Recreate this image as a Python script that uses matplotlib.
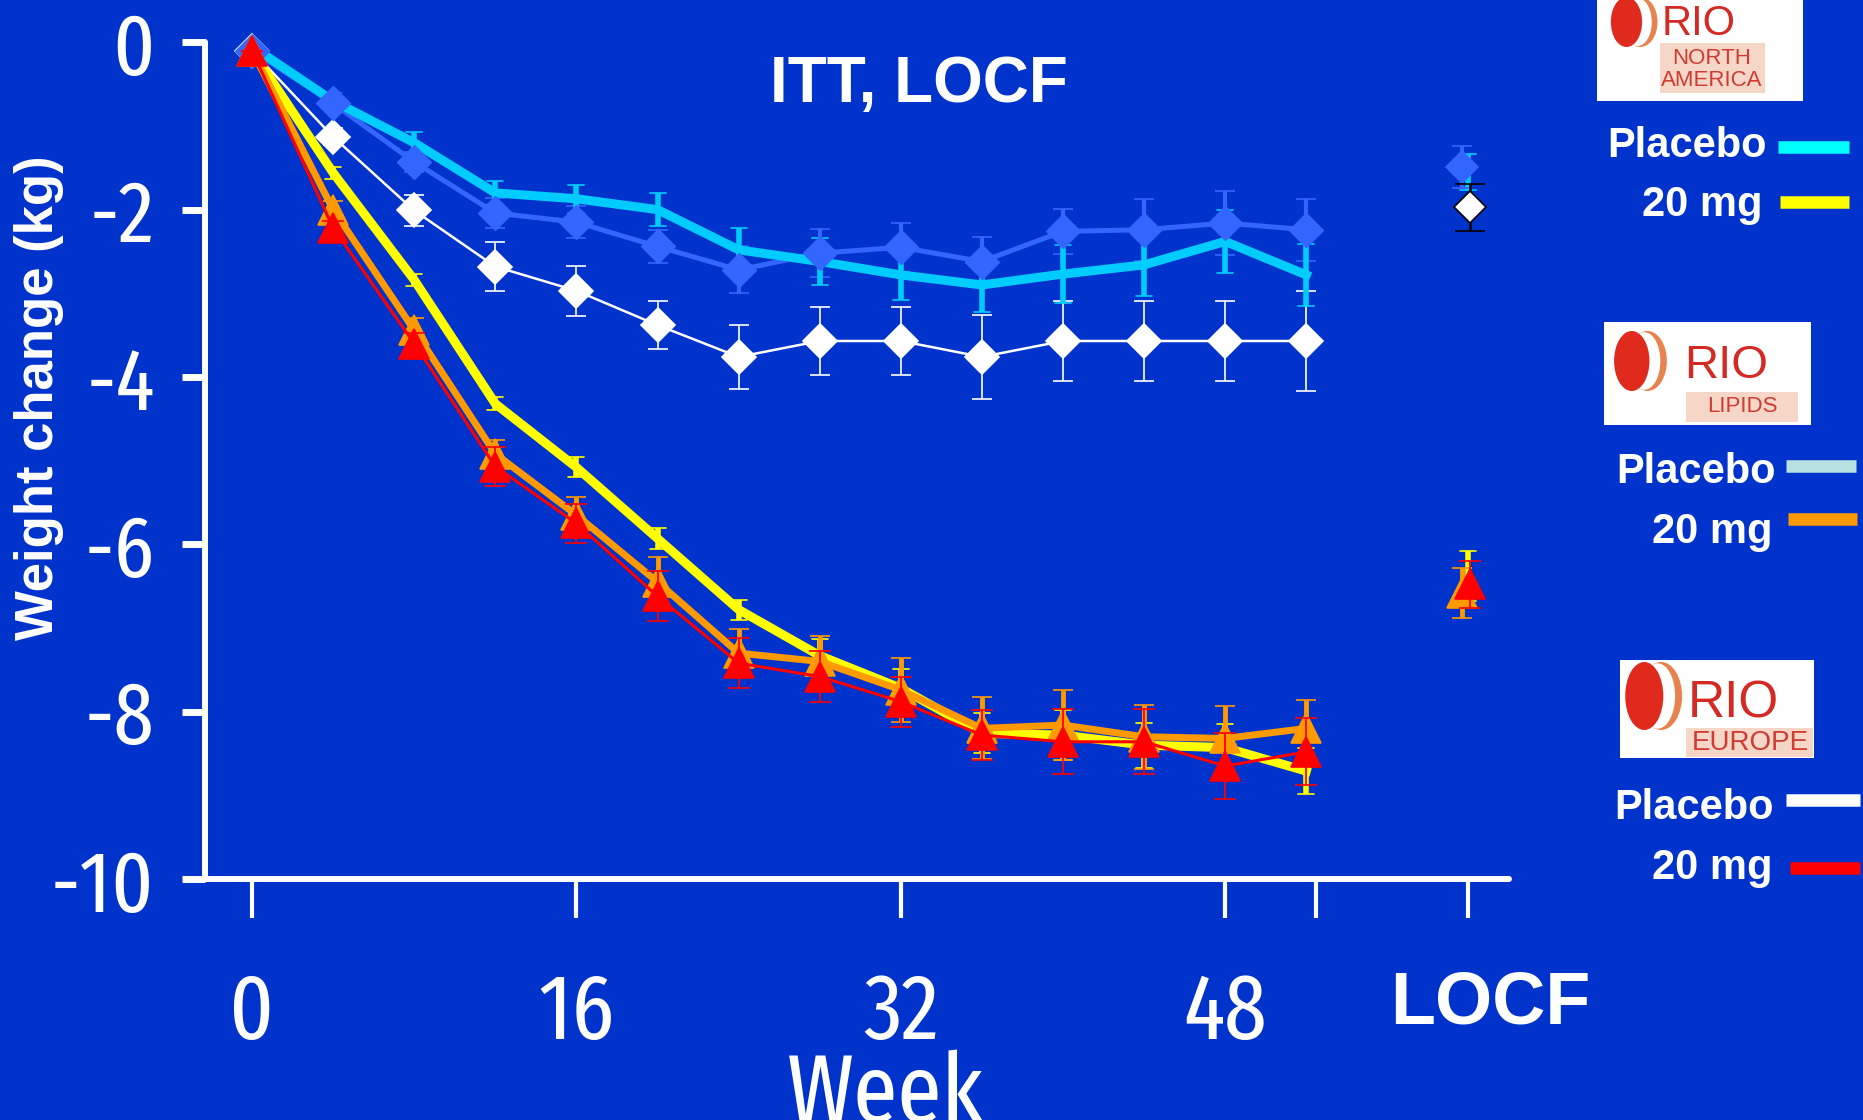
import matplotlib
matplotlib.use('Agg')
from matplotlib import pyplot as plt
from matplotlib import font_manager as fm
from matplotlib.markers import MarkerStyle
from matplotlib.patches import Rectangle, Ellipse

BG = '#0033CC'
BOLD = ['Liberation Sans', 'DejaVu Sans']

# weeks of follow-up
weeks = [0, 4, 8, 12, 16, 20, 24, 28, 32, 36, 40, 44, 48, 52]

# RIO North America
na_placebo = [-0.05, -0.70, -1.20, -1.80, -1.87, -2.00, -2.48, -2.62, -2.78, -2.90, -2.77, -2.66, -2.38, -2.78]
na_placebo_se = [0, 0.10, 0.13, 0.14, 0.17, 0.20, 0.26, 0.28, 0.30, 0.32, 0.35, 0.37, 0.38, 0.37]
na_20mg = [-0.10, -1.56, -2.84, -4.32, -5.08, -5.93, -6.78, -7.33, -7.72, -8.26, -8.28, -8.40, -8.43, -8.71]
na_20mg_se = [0, 0.07, 0.07, 0.08, 0.12, 0.13, 0.12, 0.20, 0.23, 0.24, 0.30, 0.27, 0.28, 0.27]

# RIO Lipids
lip_placebo = [-0.10, -0.73, -1.43, -2.04, -2.15, -2.44, -2.72, -2.52, -2.45, -2.62, -2.26, -2.24, -2.16, -2.24]
lip_placebo_se = [0, 0.08, 0.12, 0.18, 0.19, 0.20, 0.28, 0.29, 0.29, 0.29, 0.27, 0.37, 0.38, 0.37]
lip_20mg = [-0.10, -2.00, -3.44, -4.92, -5.65, -6.45, -7.30, -7.40, -7.74, -8.20, -8.16, -8.30, -8.32, -8.20]
lip_20mg_se = [0, 0.10, 0.14, 0.17, 0.22, 0.30, 0.29, 0.30, 0.38, 0.37, 0.42, 0.38, 0.39, 0.34]

# RIO Europe
eu_placebo = [-0.10, -1.13, -2.01, -2.68, -2.97, -3.38, -3.76, -3.57, -3.57, -3.76, -3.57, -3.57, -3.57, -3.57]
eu_placebo_se = [0, 0.10, 0.19, 0.29, 0.30, 0.29, 0.38, 0.41, 0.41, 0.50, 0.48, 0.48, 0.48, 0.60]
eu_20mg = [-0.10, -2.22, -3.60, -5.07, -5.75, -6.62, -7.42, -7.58, -7.88, -8.28, -8.36, -8.36, -8.65, -8.48]
eu_20mg_se = [0, 0.08, 0.12, 0.23, 0.23, 0.30, 0.30, 0.30, 0.30, 0.30, 0.39, 0.39, 0.39, 0.40]

# LOCF end points (mean, se)
locf_na_placebo = (-1.55, 0.22)
locf_lip_placebo = (-1.49, 0.25)
locf_eu_placebo = (-1.97, 0.28)
locf_na_20mg = (-6.38, 0.30)
locf_lip_20mg = (-6.58, 0.30)
locf_eu_20mg = (-6.48, 0.28)

LOCF_X = 60
y_ticks = [0, -2, -4, -6, -8, -10]
y_labels = ['0', '-2', '-4', '-6', '-8', '-10']
x_ticks = [0, 16, 32, 48, 52.5, 60]
x_labels = ['0', '16', '32', '48', '', '']


# the axis numbers in the slide use a narrow face; pick the narrowest sans installed
def narrow_rank(f):
    nm = f.name.lower().replace(' ', '').replace('-', '')
    if 'mono' in nm or 'serif' in nm or 'cjk' in nm or f.style != 'normal':
        return None
    if f.weight not in (400, 'normal', 'regular', 'book'):
        return None
    if 'extracondensed' in nm:
        return 0
    if 'narrow' in nm:
        return 1
    if 'semicondensed' in nm:
        return 3
    if 'ultracondensed' in nm:
        return 4
    if 'condensed' in nm or f.stretch == 'condensed':
        return 2
    return None


cands = [(narrow_rank(f), f.fname) for f in fm.fontManager.ttflist]
cands = sorted([c for c in cands if c[0] is not None])
if cands:
    NUM = dict(fname=cands[0][1])
    ysz, xsz, wsz = 63, 67, 70
else:
    NUM = dict(family=['Liberation Sans', 'DejaVu Sans'])
    ysz, xsz, wsz = 49, 53, 58

W, H = 1863.0, 1120.0
fig = plt.figure(figsize=(W / 100, H / 100), dpi=100, facecolor=BG)
ax = fig.add_axes([205.4 / W, 1 - 879 / H, (1509 - 205.4) / W, (879 - 42.3) / H])
ax.set_facecolor(BG)
ax.set_xlim(-2.3, 62)
ax.set_ylim(-10, 0)


def noclip(eb):
    for art in eb.get_children():
        art.set_clip_on(False)


def series(x, y, se, color, lw, elw, capthick, capsize, marker='None', ms=0,
           z=3, mec=None, ecolor=None, round_caps=False):
    eb = ax.errorbar(x, y, yerr=se, color=color, lw=lw, elinewidth=elw,
                     capsize=capsize, capthick=capthick, marker=marker, ms=ms,
                     mfc=color, mec=mec or color, mew=1.2, ecolor=ecolor or color,
                     zorder=z)
    noclip(eb)
    if round_caps:
        for c in eb[1]:
            c.set_marker(MarkerStyle('_', capstyle='round'))
    return eb


# placebo groups
series(weeks, eu_placebo, eu_placebo_se, 'white', 1.8, 1.2, 1.3, 7, 'D', 17, z=3)
series(weeks, lip_placebo, lip_placebo_se, '#3366FF', 3.6, 3, 4, 7, z=4)
series(weeks, na_placebo, na_placebo_se, '#00CCFF', 6.5, 4, 6, 6, z=5, round_caps=True)
ax.plot(weeks, lip_placebo, ls='None', marker='D', ms=17, color='#3366FF', zorder=6, clip_on=False)

# 20 mg groups
series(weeks, na_20mg, na_20mg_se, '#FFFF00', 6.5, 4, 6, 6, z=7, round_caps=True)
series(weeks, lip_20mg, lip_20mg_se, '#FF9900', 5, 3.5, 4, 7, '^', 21, z=8)
series(weeks, eu_20mg, eu_20mg_se, '#FF0000', 2.2, 1.3, 1.5, 8, '^', 21, z=9)

# LOCF points
series([LOCF_X], [locf_na_placebo[0]], [locf_na_placebo[1]], '#00CCFF', 0, 4, 6, 6, z=5, round_caps=True)
series([LOCF_X - 0.3], [locf_lip_placebo[0]], [locf_lip_placebo[1]], '#3366FF', 0, 3, 4, 7, 'D', 16, z=6)
series([LOCF_X + 0.1], [locf_eu_placebo[0]], [locf_eu_placebo[1]], 'white', 0, 1.8, 1.8, 11, 'D', 16, z=7,
       mec='black', ecolor='black')
series([LOCF_X], [locf_na_20mg[0]], [locf_na_20mg[1]], '#FFFF00', 0, 4, 6, 6, z=7, round_caps=True)
series([LOCF_X - 0.3], [locf_lip_20mg[0]], [locf_lip_20mg[1]], '#FF9900', 0, 3.5, 4, 7, '^', 21, z=8)
series([LOCF_X + 0.1], [locf_eu_20mg[0]], [locf_eu_20mg[1]], '#FF0000', 0, 1.3, 1.5, 8, '^', 21, z=9)

# axes styling
for s in ['top', 'right']:
    ax.spines[s].set_visible(False)
for s in ['left', 'bottom']:
    ax.spines[s].set_color('white')
    ax.spines[s].set_linewidth(4.3)
    ax.spines[s].set_capstyle('round')
ax.spines['left'].set_bounds(-10, 0)

ax.set_yticks(y_ticks)
ax.set_yticklabels(y_labels)
ax.set_xticks(x_ticks)
ax.set_xticklabels(x_labels)
ax.tick_params(axis='y', direction='out', length=16.5, width=5, color='white',
               labelcolor='white', pad=20)
ax.tick_params(axis='x', direction='out', length=28, width=3, color='white',
               labelcolor='white', pad=37)
for lab in ax.get_yticklabels():
    lab.set_fontproperties(fm.FontProperties(size=ysz, **NUM))
for lab in ax.get_xticklabels():
    lab.set_fontproperties(fm.FontProperties(size=xsz, **NUM))

ax.text(61.07, -11.73, 'LOCF', ha='center', va='baseline', color='white',
        fontsize=53, fontweight='bold', family=BOLD, clip_on=False)

fig.text(919 / W, 1 - 102 / H, 'ITT, LOCF', ha='center', va='baseline', color='white',
         fontsize=46, fontweight='bold', family=BOLD)
fig.text(39 / W, 1 - 398 / H, 'Weight change (kg)', rotation=90, ha='center', va='center',
         color='white', fontsize=38, fontweight='bold', family=BOLD)
fig.text(885 / W, -2 / H, 'Week', ha='center', va='baseline', color='white',
         fontproperties=fm.FontProperties(size=wsz, **NUM))

# right-hand legend with study logos
deco = fig.add_axes([0, 0, 1, 1], zorder=5)
deco.set_xlim(0, W)
deco.set_ylim(H, 0)
deco.axis('off')


def logo(x0, y0, x1, y1, emb, rio, sub, subbox):
    deco.add_patch(Rectangle((x0, y0), x1 - x0, y1 - y0, color='white', lw=0))
    ex, ey, ew, eh = emb
    deco.add_patch(Ellipse((ex + ew * 0.18, ey), ew * 0.75, eh, color='#E8834F', lw=0))
    deco.add_patch(Ellipse((ex + ew * 0.12, ey), ew * 0.62, eh * 0.96, color='white', lw=0))
    deco.add_patch(Ellipse((ex - ew * 0.12, ey), ew * 0.68, eh, color='#E02A1E', lw=0))
    rx, ry, rs = rio
    deco.text(rx, ry, 'RIO', color='#D42A24', fontsize=rs, family=['Liberation Sans', 'DejaVu Sans'],
              ha='left', va='baseline')
    bx0, by0, bx1, by1 = subbox
    deco.add_patch(Rectangle((bx0, by0), bx1 - bx0, by1 - by0, color='#F6D6C6', lw=0))
    for txt, tx, ty, ts in sub:
        deco.text(tx, ty, txt, color='#D03A30', fontsize=ts, family=['Liberation Sans', 'DejaVu Sans'],
                  ha='center', va='center')


logo(1597, 0, 1803, 101, (1632, 22, 46, 50), (1662, 35, 30),
     [('NORTH', 1712, 59, 16), ('AMERICA', 1712, 81, 16)], (1660, 43, 1765, 93))
logo(1604, 322, 1811, 425, (1638, 361, 52, 60), (1684, 378, 34),
     [('LIPIDS', 1742, 406, 16)], (1686, 392, 1798, 422))
logo(1620, 660, 1814, 758, (1651, 696, 56, 68), (1688, 717, 37),
     [('EUROPE', 1750, 743, 20)], (1686, 728, 1813, 757))

legend_rows = [
    ('Placebo', 157, 1767, 1778, 1849, 147, '#00FFFF'),
    ('20 mg', 216, 1763, 1780, 1849, 202, '#FFFF00'),
    ('Placebo', 483, 1776, 1786, 1856, 466, '#B8E2E2'),
    ('20 mg', 543, 1773, 1788, 1857, 519, '#FF9900'),
    ('Placebo', 819, 1774, 1786, 1860, 800, 'white'),
    ('20 mg', 879, 1773, 1790, 1860, 868, '#FF0000'),
]
for txt, base, tr, sx0, sx1, sy, col in legend_rows:
    deco.text(tr, base, txt, ha='right', va='baseline', color='white', fontsize=30,
              fontweight='bold', family=BOLD)
    deco.plot([sx0, sx1], [sy, sy], color=col, lw=9, solid_capstyle='butt')

fig.savefig('out.png', dpi=100, facecolor=BG)
